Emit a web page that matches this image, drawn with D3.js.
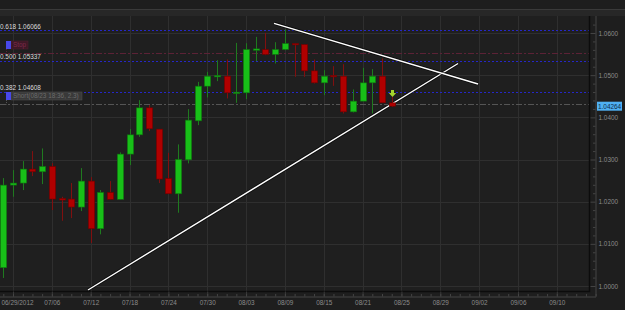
<!DOCTYPE html>
<html>
<head>
<meta charset="utf-8">
<script src="https://cdn.jsdelivr.net/npm/d3@7"></script>
<style>
  html, body { margin: 0; padding: 0; background: #1e1e1e; }
  svg { display: block; font-family: "Liberation Sans", Arial, sans-serif; }
</style>
</head>
<body>
<svg id="chart" width="625" height="310"></svg>
<script>
// EUR/CHF-ish daily candles
const opens  = [1.00434,1.02393,1.02441,1.02773,1.02709,1.02836,1.02078,1.02062,1.01872,1.02488,
                1.01358,1.02220,1.02055,1.03128,1.03585,1.04225,1.03720,1.02552,1.02187,1.02993,
                1.03917,1.04739,1.04960,1.04976,1.04566,1.04581,1.05592,1.05609,1.05491,1.05609,
                1.05751,1.05727,1.05102,1.04818,1.04993,1.04976,1.04130,1.04384,1.04818,1.04976,
                1.04344];
const highs  = [1.02559,1.02749,1.02962,1.03199,1.03263,1.02915,1.02116,1.02441,1.02796,1.02583,
                1.02275,1.02488,1.03168,1.03720,1.04408,1.04289,1.03720,1.03159,1.03358,1.04194,
                1.04841,1.05078,1.05355,1.05372,1.05765,1.05758,1.05908,1.06002,1.05782,1.06083,
                1.05751,1.05727,1.05372,1.05118,1.05213,1.05261,1.04661,1.05173,1.05142,1.05396,
                1.04486];
const lows   = [1.00190,1.02116,1.02275,1.02607,1.02417,1.01801,1.01547,1.01611,1.01777,1.01019,
                1.01225,1.02055,1.02055,1.02867,1.03538,1.03673,1.02441,1.02187,1.01737,1.02908,
                1.03815,1.04472,1.04858,1.04448,1.04344,1.04431,1.05332,1.05474,1.05277,1.05592,
                1.04960,1.04960,1.04803,1.04526,1.04747,1.04092,1.04116,1.04384,1.04092,1.04344,
                1.04249];
const closes = [1.02393,1.02441,1.02773,1.02709,1.02836,1.02062,1.02038,1.01872,1.02488,1.01358,
                1.02220,1.02055,1.03128,1.03585,1.04225,1.03728,1.02536,1.02187,1.03002,1.03934,
                1.04739,1.04976,1.04993,1.04581,1.04597,1.05609,1.05623,1.05491,1.05609,1.05751,
                1.05718,1.05102,1.04818,1.04976,1.04960,1.04130,1.04384,1.04818,1.04976,1.04344,
                1.04264];

// x axis labels (bar index where each label sits)
const dateLabels = ["06/29/2012","07/06","07/12","07/18","07/24","07/30","08/03","08/09",
                    "08/15","08/21","08/25","08/29","09/02","09/06","09/10"];
const dateIdx = [1,5,9,13,17,21,25,29,33,37,41,45,49,53,57];
const priceTicks = [1.00,1.01,1.02,1.03,1.04,1.05,1.06];

// fibonacci levels
const fibRatios = ["0.618","0.500","0.382"];
const fibLevels = [1.06066,1.05337,1.04608];

// order lines
const stopLevel = 1.05514;
const shortLevel = 1.0431;
const shortText = "Short(08/23 18:36, 2.3)";
const lastPrice = 1.04264;

// trend lines: [startIdx, startPrice, endIdx, endPrice]
const supportLine = [8.72, 0.99905, 46.83, 1.05277];
const resistLine  = [27.88, 1.06230, 48.89, 1.04790];

// signal arrow
const arrowIdx = 40;
const arrowPrice = 1.0465;

document.addEventListener('DOMContentLoaded', function() {
    const W = 625, H = 310;
    const plotL = 0, plotR = 589, plotT = 16, plotB = 291;

    const svg = d3.select('#chart');

    const x = d3.scaleLinear().domain([0, 57]).range([3.3, 556.8]);
    const y = d3.scaleLinear().domain([1.0, 1.06]).range([286, 33]);

    // top band
    svg.append('rect').attr('x', 0).attr('y', 9).attr('width', W).attr('height', 7).attr('fill', '#272727');
    svg.append('line').attr('x1', 0).attr('x2', W).attr('y1', 9.5).attr('y2', 9.5).attr('stroke', '#3a3a3a');

    // plot background
    svg.append('rect')
        .attr('x', plotL).attr('y', plotT)
        .attr('width', plotR - plotL).attr('height', plotB - plotT)
        .attr('fill', '#1f1f1f');

    const clip = svg.append('clipPath').attr('id', 'plotClip')
        .append('rect').attr('x', plotL).attr('y', plotT)
        .attr('width', plotR - plotL).attr('height', plotB - plotT);

    // grid
    const grid = svg.append('g').attr('stroke', '#2f2f2f').attr('stroke-width', 1);
    grid.selectAll('.vg').data(dateIdx).join('line')
        .attr('x1', d => Math.round(x(d)) + 0.5).attr('x2', d => Math.round(x(d)) + 0.5)
        .attr('y1', plotT).attr('y2', plotB);
    grid.selectAll('.hg').data(priceTicks).join('line')
        .attr('x1', plotL).attr('x2', plotR)
        .attr('y1', d => Math.round(y(d)) + 0.5).attr('y2', d => Math.round(y(d)) + 0.5);

    const plot = svg.append('g').attr('clip-path', 'url(#plotClip)');

    // fib lines + labels
    plot.selectAll('.fib').data(fibLevels).join('line')
        .attr('x1', plotL).attr('x2', plotR)
        .attr('y1', d => Math.round(y(d)) + 0.5).attr('y2', d => Math.round(y(d)) + 0.5)
        .attr('stroke', '#2626c8').attr('stroke-dasharray', '2,2');
    svg.selectAll('.fibLabel').data(fibLevels).join('text')
        .attr('x', 0).attr('y', d => y(d) - 1.5)
        .attr('fill', '#dcdcdc').attr('font-size', 6.4)
        .text((d, i) => fibRatios[i] + ' ' + d.toFixed(5));

    // stop + short order lines
    function orderLine(level, color, boxFill, boxStroke, textFill, label, boxW) {
        const ly = Math.round(y(level)) + 0.5;
        plot.append('line')
            .attr('x1', plotL).attr('x2', plotR).attr('y1', ly).attr('y2', ly)
            .attr('stroke', color).attr('stroke-dasharray', '6,2,2,2');
        const by = ly - 12.5;
        svg.append('line').attr('x1', 6.5).attr('x2', 6.5).attr('y1', by + 8).attr('y2', ly)
            .attr('stroke', color).attr('stroke-dasharray', '1,1');
        svg.append('rect').attr('x', 11).attr('y', by).attr('width', boxW).attr('height', 8)
            .attr('fill', boxFill).attr('stroke', boxStroke).attr('stroke-width', 0.6);
        svg.append('rect').attr('x', 6).attr('y', by).attr('width', 5).attr('height', 8)
            .attr('fill', '#4848e8');
        svg.append('text').attr('x', 13).attr('y', by + 6.3)
            .attr('fill', textFill).attr('font-size', 6.4).text(label);
    }
    orderLine(stopLevel, '#5c2236', '#3e1826', '#4e2030', '#7c2c4c', 'Stop', 17);
    orderLine(shortLevel, '#555555', '#393939', '#4c4c4c', '#6c6c6c', shortText, 71);

    // trend lines (dark halo + white)
    [supportLine, resistLine].forEach(t => {
        plot.append('line')
            .attr('x1', x(t[0])).attr('y1', y(t[1])).attr('x2', x(t[2])).attr('y2', y(t[3]))
            .attr('stroke', '#000').attr('stroke-width', 3).attr('stroke-opacity', 0.7);
        plot.append('line')
            .attr('x1', x(t[0])).attr('y1', y(t[1])).attr('x2', x(t[2])).attr('y2', y(t[3]))
            .attr('stroke', '#ffffff').attr('stroke-width', 1.4);
    });

    // candles
    const candles = opens.map((o, i) => ({ i, o, h: highs[i], l: lows[i], c: closes[i], up: closes[i] >= o }));
    const bodyW = 6.4;
    const cg = plot.selectAll('.candle').data(candles).join('g').attr('class', 'candle');
    cg.append('line')
        .attr('x1', d => Math.round(x(d.i)) + 0.5).attr('x2', d => Math.round(x(d.i)) + 0.5)
        .attr('y1', d => y(d.h)).attr('y2', d => y(d.l))
        .attr('stroke', d => d.up ? '#1f7a1f' : '#801010').attr('stroke-width', 1);
    cg.append('rect')
        .attr('x', d => Math.round(x(d.i)) + 0.5 - bodyW / 2)
        .attr('width', bodyW)
        .attr('y', d => y(Math.max(d.o, d.c)))
        .attr('height', d => Math.max(1.4, Math.abs(y(d.o) - y(d.c))))
        .attr('fill', d => d.up ? '#18bf18' : '#b00000')
        .attr('stroke', d => d.up ? '#0e6e0e' : '#6c0000').attr('stroke-width', 0.6);

    // signal arrow
    const ax = Math.round(x(arrowIdx)) + 0.5, ay = y(arrowPrice);
    svg.append('path')
        .attr('d', `M${ax - 1.5},${ay} h3 v3 h2.2 l-3.7,4 l-3.7,-4 h2.2 z`)
        .attr('fill', '#a4d42c');

    // plot border (dark)
    svg.append('path')
        .attr('d', `M${plotR + 0.5},${plotT} V${plotB + 0.5} H${plotL}`)
        .attr('fill', 'none').attr('stroke', '#0c0c0c').attr('stroke-width', 1.5);

    // x axis
    const xAxis = svg.append('g').attr('transform', `translate(0,${plotB + 0.5})`)
        .call(d3.axisBottom(x).tickValues(dateIdx).tickSize(5).tickPadding(4)
            .tickFormat((d, i) => dateLabels[i]));
    xAxis.select('.domain').remove();
    xAxis.selectAll('line').attr('stroke', '#3a3a3a');
    xAxis.selectAll('text').attr('fill', '#8c8c8c').attr('font-size', 6.4)
        .attr('font-family', '"Liberation Sans", Arial, sans-serif');
    xAxis.selectAll('text').filter((d, i) => i === 0).attr('text-anchor', 'start').attr('x', -x(dateIdx[0]) + 1);

    const minorIdx = d3.range(0, 62);
    const xMinor = svg.append('g').attr('transform', `translate(0,${plotB + 5.5})`)
        .call(d3.axisBottom(x).tickValues(minorIdx).tickSize(-2.5).tickFormat(''));
    xMinor.select('.domain').attr('stroke', '#444').attr('d', `M0,0.5H${plotR + 7}`);
    xMinor.selectAll('line').attr('stroke', '#444');

    // y axis
    const yAxis = svg.append('g').attr('transform', `translate(${plotR + 6.5},0)`)
        .call(d3.axisRight(y).tickValues(priceTicks).tickSize(0).tickPadding(3)
            .tickFormat(d3.format('.4f')));
    yAxis.select('.domain').remove();
    yAxis.selectAll('text').attr('fill', '#8c8c8c').attr('font-size', 6.4)
        .attr('font-family', '"Liberation Sans", Arial, sans-serif');

    const yMinor = svg.append('g').attr('transform', `translate(${plotR + 6.5},0)`)
        .call(d3.axisLeft(y).tickValues(d3.range(0, 32).map(k => 1.0 + k * 0.002))
            .tickSize(2.5).tickFormat(''));
    yMinor.select('.domain').attr('stroke', '#444').attr('d', `M0.5,${plotT}V${plotB + 5.5}`);
    yMinor.selectAll('line').attr('stroke', '#444');
    yMinor.selectAll('.tick').filter(d => Math.abs(d * 100 - Math.round(d * 100)) < 1e-6)
        .select('line').attr('x2', -5);

    // last price tag
    const py = y(lastPrice);
    svg.append('rect').attr('x', plotR + 8).attr('y', py - 4.5).attr('width', 25).attr('height', 9)
        .attr('fill', '#4fb0f2');
    svg.append('text').attr('x', plotR + 9).attr('y', py + 2.3)
        .attr('fill', '#0c2a48').attr('font-size', 6.4).text(lastPrice.toFixed(5));
});
</script>
</body>
</html>
